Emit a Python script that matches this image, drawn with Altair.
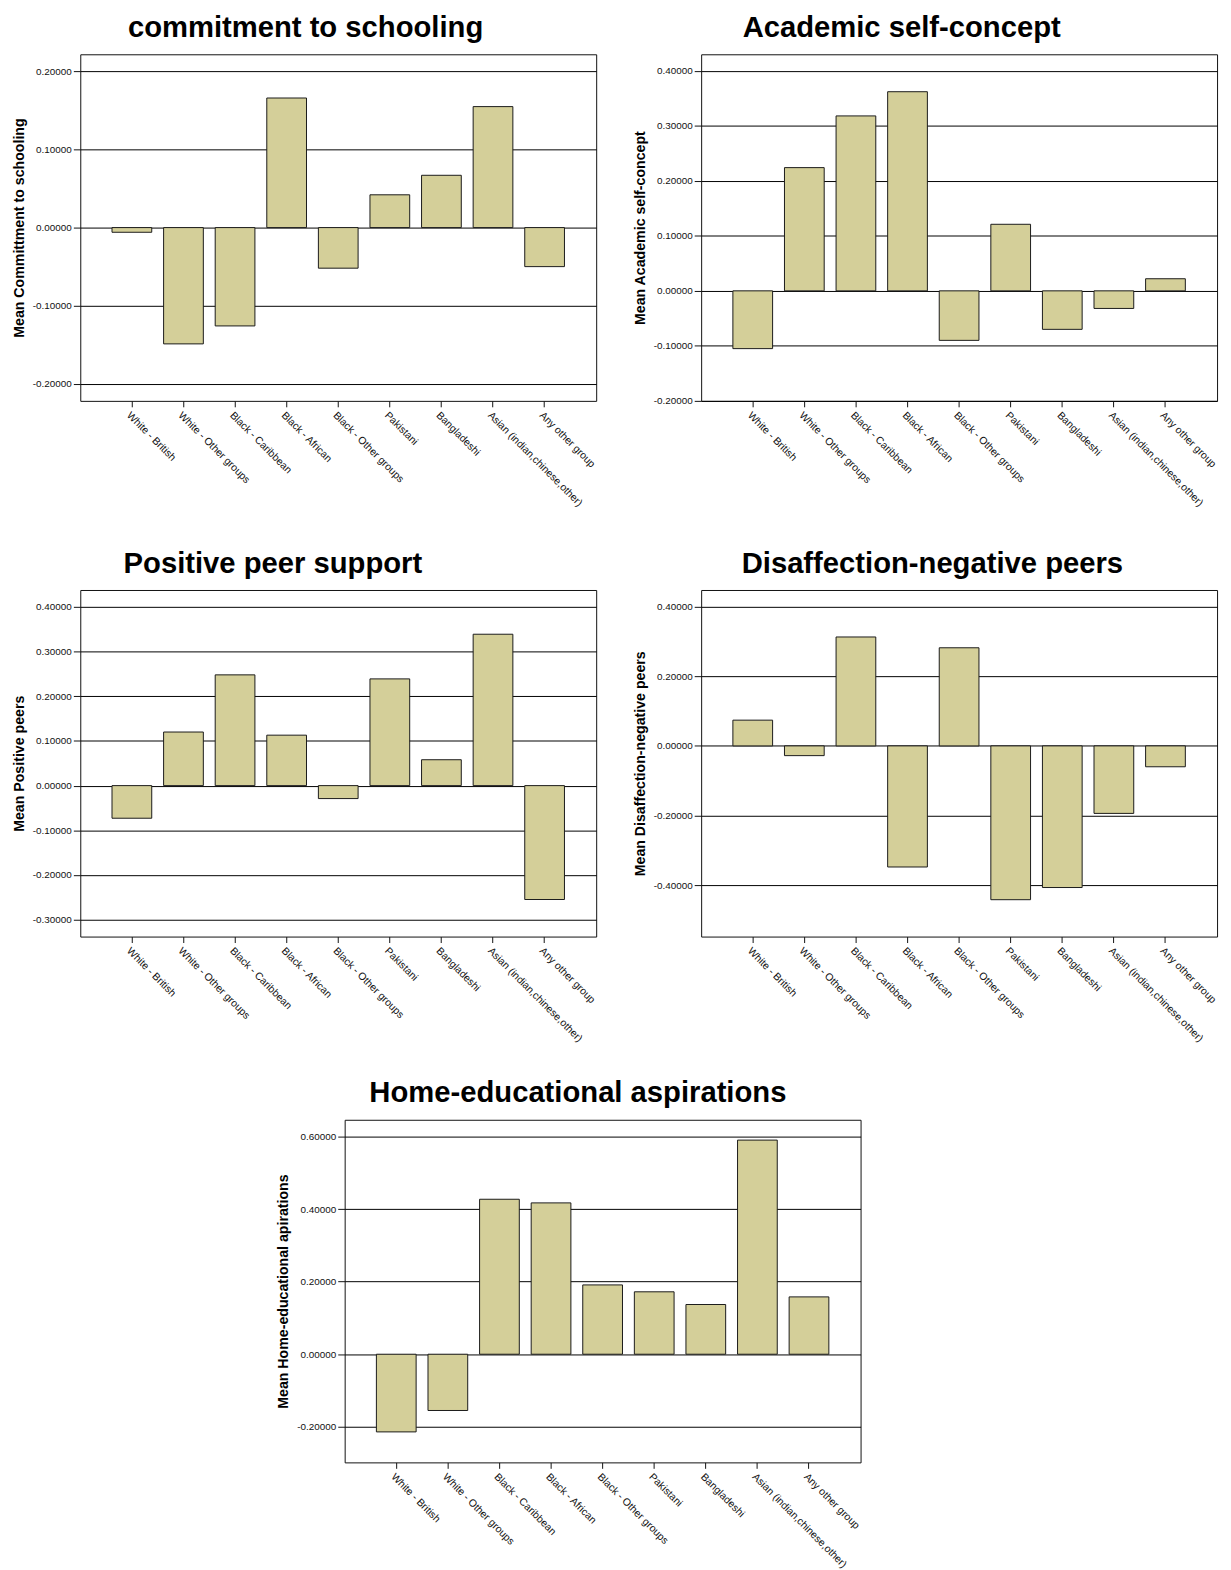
import altair as alt
import pandas as pd

FONT = "Liberation Sans"
FILL = "#d4cf99"

categories = [
    "White - British",
    "White - Other groups",
    "Black - Caribbean",
    "Black - African",
    "Black - Other groups",
    "Pakistani",
    "Bangladeshi",
    "Asian (indian,chinese,other)",
    "Any other group",
]

commitment = [-0.006, -0.149, -0.126, 0.166, -0.052, 0.042, 0.067, 0.155, -0.050]
academic = [-0.105, 0.224, 0.318, 0.362, -0.090, 0.121, -0.070, -0.032, 0.022]
positive = [-0.073, 0.120, 0.248, 0.113, -0.029, 0.239, 0.058, 0.339, -0.255]
disaffection = [0.074, -0.028, 0.313, -0.348, 0.282, -0.442, -0.407, -0.194, -0.060]
home = [-0.214, -0.155, 0.427, 0.417, 0.191, 0.172, 0.137, 0.590, 0.158]

ticks1 = [-0.2, -0.1, 0.0, 0.1, 0.2]
ticks2 = [-0.2, -0.1, 0.0, 0.1, 0.2, 0.3, 0.4]
ticks3 = [-0.3, -0.2, -0.1, 0.0, 0.1, 0.2, 0.3, 0.4]
ticks4 = [-0.4, -0.2, 0.0, 0.2, 0.4]
ticks5 = [-0.2, 0.0, 0.2, 0.4, 0.6]

LABEL_EXPR = "(datum.value < -0.000001 ? '-' : '') + format(abs(datum.value), '.5f')"


def panel(values, title, ytitle, domain, ticks, dx, w=521, h=350):
    df = pd.DataFrame({"group": categories, "value": values})
    return (
        alt.Chart(df)
        .mark_bar(fill=FILL, stroke="#1a1a1a", strokeWidth=1)
        .encode(
            x=alt.X(
                "group:N",
                sort=categories,
                title=None,
                scale=alt.Scale(paddingInner=0.23, paddingOuter=0.615),
                axis=alt.Axis(
                    labelAngle=45,
                    labelAlign="left",
                    labelBaseline="top",
                    labelFontSize=10.5,
                    labelFont=FONT,
                    labelColor="#111",
                    labelPadding=3,
                    labelLimit=300,
                    tickSize=6,
                    tickColor="#111",
                    domain=False,
                    grid=False,
                ),
            ),
            y=alt.Y(
                "value:Q",
                title=ytitle,
                scale=alt.Scale(domain=domain, nice=False, zero=False),
                axis=alt.Axis(
                    values=ticks,
                    labelExpr=LABEL_EXPR,
                    labelFontSize=10,
                    labelFont=FONT,
                    labelColor="#111",
                    labelPadding=2,
                    tickSize=7,
                    tickColor="#111",
                    domain=False,
                    grid=True,
                    gridColor="#000",
                    gridWidth=1,
                    gridOpacity=1,
                    titleFont=FONT,
                    titleFontSize=14.3,
                    titleFontWeight="bold",
                    titleColor="black",
                    titlePadding=6,
                ),
            ),
        )
        .properties(
            width=w,
            height=h,
            title=alt.TitleParams(
                text=title,
                font=FONT,
                fontSize=29.5,
                fontWeight="bold",
                color="black",
                anchor="middle",
                frame="group",
                dx=dx,
                offset=-18,
                baseline="bottom",
            ),
        )
    )


p1 = panel(commitment, "commitment to schooling", "Mean Committment to schooling",
           [-0.222, 0.222], ticks1, -33)
p2 = panel(academic, "Academic self-concept", "Mean Academic self-concept",
           [-0.2, 0.43], ticks2, -58)
p3 = panel(positive, "Positive peer support", "Mean Positive peers",
           [-0.338, 0.438], ticks3, -66)
p4 = panel(disaffection, "Disaffection-negative peers", "Mean Disaffection-negative peers",
           [-0.548, 0.448], ticks4, -27)
p5 = panel(home, "Home-educational aspirations", "Mean Home-educational apirations",
           [-0.298, 0.646], ticks5, -25, h=346)

spacer = (
    alt.Chart(pd.DataFrame({"a": [0]}))
    .mark_point(opacity=0, size=1)
    .encode(x=alt.value(5), y=alt.value(5))
    .properties(width=197, height=10, view=alt.ViewBackground(stroke="transparent"))
)

row1 = alt.hconcat(p1, p2, spacing=36)
row2 = alt.hconcat(p3, p4, spacing=36)
row3 = alt.hconcat(spacer, p5, spacing=0)

top = alt.vconcat(row1, row2, spacing=40)
chart = (
    alt.vconcat(top, row3, spacing=34)
    .properties(padding={"left": 4, "top": -3, "right": 5, "bottom": 0}, background="white")
    .configure_view(stroke="#111", strokeWidth=1)
)

chart.save("out.html", embed_options={"renderer": "svg", "actions": False})
